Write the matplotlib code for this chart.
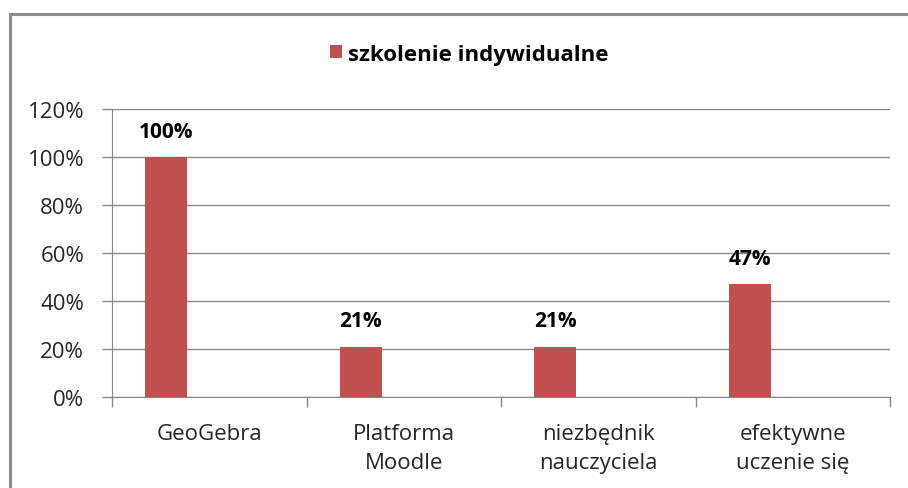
import numpy as np
import matplotlib.pyplot as plt
from matplotlib.patches import Rectangle
from matplotlib.ticker import PercentFormatter

plt.rcParams['font.family'] = ['Open Sans', 'DejaVu Sans']

categories = ["GeoGebra", "Platforma\nMoodle", "niezbędnik\nnauczyciela", "efektywne\nuczenie się"]
values = [100, 21, 21, 47]
series_name = "szkolenie indywidualne"

BAR_COLOR = "#C0504D"
GRID_COLOR = "#868686"
TEXT_COLOR = "#262626"

fig = plt.figure(figsize=(9.08, 4.89), dpi=100)
# chart frame, cut off on the right and bottom like the screenshot
fig.patches.append(Rectangle((10 / 908, -0.1), 1.2, 1 - 15 / 489 + 0.1, transform=fig.transFigure,
                             fill=False, edgecolor="#8c8c8c", linewidth=2.2, zorder=0))

ax = fig.add_axes([112 / 908, 1 - 398 / 489, 778 / 908, 288 / 489])

x = np.arange(len(categories))
bars = ax.bar(x - 0.222, values, width=0.216, color=BAR_COLOR, zorder=3, label=series_name)

for xi, v in zip(x, values):
    ax.annotate(f"{v}%", (xi - 0.222, v), xytext=(0, 11), textcoords="offset points",
                ha="center", va="bottom", fontsize=15, fontweight="bold", color="black")

ax.set_xlim(-0.5, len(categories) - 0.5)
ax.set_ylim(0, 120)
ax.set_yticks(np.arange(0, 121, 20))
ax.yaxis.set_major_formatter(PercentFormatter(decimals=0))
ax.grid(axis="y", color=GRID_COLOR, linewidth=1, zorder=0)

ax.set_xticks(x)
ax.set_xticklabels(categories, fontsize=16, color=TEXT_COLOR, linespacing=1.5)
ax.set_xticks(np.arange(-0.5, len(categories)), minor=True)
ax.tick_params(axis="x", which="major", length=0, pad=19)
ax.tick_params(axis="x", which="minor", length=7, color=GRID_COLOR, width=1)
ax.tick_params(axis="y", length=7, color=GRID_COLOR, width=1, labelsize=16, labelcolor=TEXT_COLOR, pad=13)

for side in ["top", "right"]:
    ax.spines[side].set_visible(False)
for side in ["left", "bottom"]:
    ax.spines[side].set_color(GRID_COLOR)

fig.legend(handles=[bars], loc="center", bbox_to_anchor=(469 / 908, 1 - 55 / 489), frameon=False,
           prop={"size": 16, "weight": "bold"}, handlelength=0.55, handleheight=0.55, handletextpad=0.25)

fig.savefig("out.png", dpi=100)
